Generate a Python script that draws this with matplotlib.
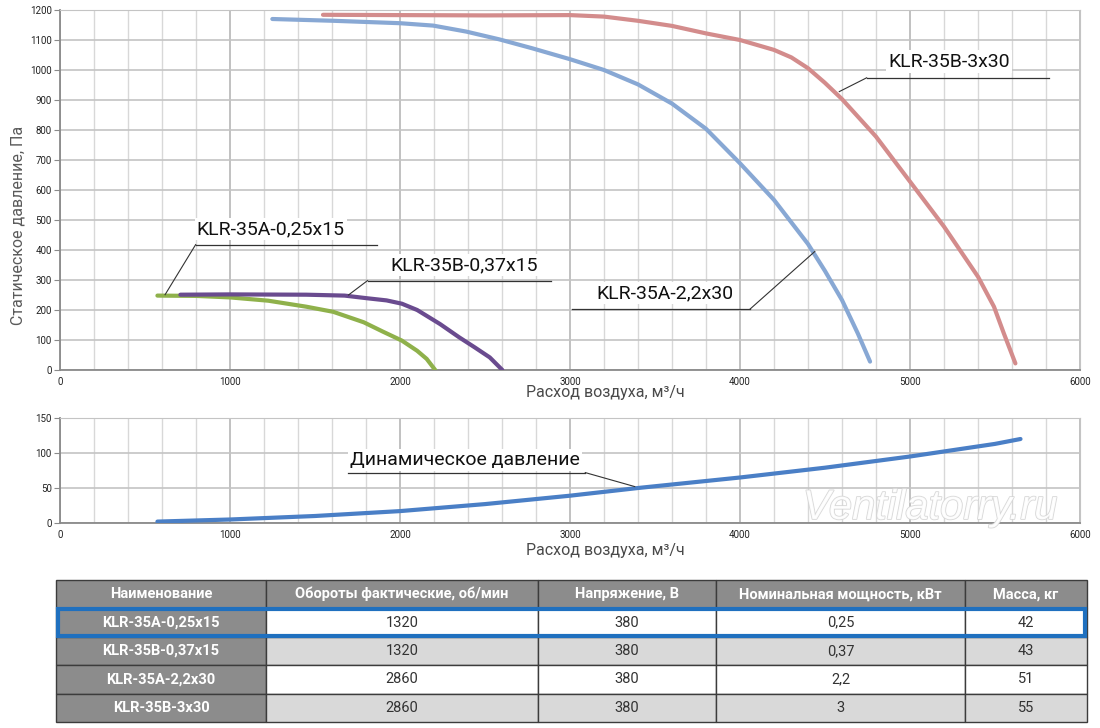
import matplotlib
matplotlib.use("Agg")
import matplotlib.pyplot as plt
import matplotlib.patheffects as pe
from matplotlib.patches import Rectangle
from matplotlib.ticker import MultipleLocator

plt.rcParams['font.family'] = ['Roboto', 'DejaVu Sans']

# static pressure curves, flow m3/h vs Pa
green_x = [573, 800, 1000, 1225, 1449, 1607, 1787, 1899, 2011, 2101, 2157, 2207]
green_y = [248, 247, 242, 231, 211, 194, 159, 128, 98, 64, 37, 0]

purple_x = [708, 1000, 1449, 1674, 1809, 1921, 2011, 2101, 2236, 2348, 2438, 2528, 2602]
purple_y = [251, 252, 251, 248, 239, 232, 221, 200, 153, 109, 76, 42, 0]

blue_x = [1249, 1610, 2000, 2195, 2390, 2585, 2780, 3000, 3200, 3400, 3600, 3800,
          4000, 4200, 4400, 4500, 4600, 4693, 4765]
blue_y = [1170, 1164, 1156, 1148, 1128, 1102, 1072, 1036, 1000, 952, 888, 804,
          689, 567, 420, 330, 233, 122, 28]

red_x = [1547, 2000, 2500, 3000, 3200, 3400, 3600, 3800, 4000, 4200, 4302, 4400,
         4498, 4600, 4800, 5000, 5200, 5400, 5494, 5552, 5620]
red_y = [1184, 1183, 1182, 1183, 1178, 1164, 1147, 1122, 1100, 1067, 1042, 1006,
         958, 903, 778, 628, 478, 311, 211, 122, 22]

# dynamic pressure
dyn_x = [573, 1000, 1500, 2000, 2500, 3000, 3400, 4000, 4500, 5000, 5500, 5650]
dyn_y = [2, 5, 10, 17, 27, 39, 50, 65, 79, 95, 113, 120]

# table
headers = ["Наименование", "Обороты фактические, об/мин", "Напряжение, В",
           "Номинальная мощность, кВт", "Масса, кг"]
models = ["KLR-35A-0,25x15", "KLR-35B-0,37x15", "KLR-35A-2,2x30", "KLR-35B-3x30"]
rpm = ["1320", "1320", "2860", "2860"]
voltage = ["380", "380", "380", "380"]
power = ["0,25", "0,37", "2,2", "3"]
mass = ["42", "43", "51", "55"]

W, H = 1100, 728
fig = plt.figure(figsize=(11, 7.28), dpi=100)


def px_axes(left, top, right, bottom):
    return fig.add_axes([left / W, 1 - bottom / H, (right - left) / W, (bottom - top) / H])


def style_axes(ax, ymax, ystep):
    ax.set_xlim(0, 6000)
    ax.set_ylim(0, ymax)
    ax.xaxis.set_major_locator(MultipleLocator(1000))
    ax.xaxis.set_minor_locator(MultipleLocator(200))
    ax.yaxis.set_major_locator(MultipleLocator(ystep))
    ax.grid(which='major', axis='x', color='#bcbcbc', lw=1.3)
    ax.grid(which='minor', axis='x', color='#d8d8d8', lw=1.0)
    ax.grid(which='major', axis='y', color='#c4c4c4', lw=1.2)
    ax.set_axisbelow(True)
    for s in ['top', 'right']:
        ax.spines[s].set_color('#c4c4c4')
    for s in ['left', 'bottom']:
        ax.spines[s].set_color('#8a8a8a')
        ax.spines[s].set_linewidth(1.3)
    ax.tick_params(axis='y', length=4, color='#8a8a8a', labelsize=7, labelcolor='#222222', pad=2)
    ax.tick_params(axis='x', which='both', length=0, labelsize=7, labelcolor='#222222', pad=5)


def curve(ax, xs, ys, color):
    ax.plot(xs, ys, color=color, lw=3, solid_capstyle='round', solid_joinstyle='round', zorder=3)


def callout(ax, text, tx, ty, x0, x1, ly, px, py, size=14):
    ax.plot([x0, x1], [ly, ly], color='#333333', lw=0.9, zorder=4)
    ax.plot([x0 if px < x0 else x1, px], [ly, py], color='#333333', lw=0.8, zorder=4)
    ax.text(tx, ty, text, fontsize=size, ha='center', va='center', color='#111111', zorder=5,
            bbox=dict(facecolor='white', edgecolor='none', pad=1.5))


# ---- static pressure chart
ax1 = px_axes(60, 10, 1080, 370)
style_axes(ax1, 1200, 100)
curve(ax1, green_x, green_y, '#8fb14b')
curve(ax1, purple_x, purple_y, '#6a4b8f')
curve(ax1, blue_x, blue_y, '#88a8d4')
curve(ax1, red_x, red_y, '#d38c8c')

callout(ax1, "KLR-35A-0,25x15", 1240, 470, 798, 1865, 418, 618, 251)
callout(ax1, "KLR-35B-0,37x15", 2380, 350, 1809, 2888, 298, 1697, 250)
callout(ax1, "KLR-35A-2,2x30", 3560, 256, 3012, 4059, 203, 4440, 395)
callout(ax1, "KLR-35B-3x30", 5230, 1028, 4745, 5820, 974, 4584, 928)

fig.text(18 / W, 1 - 225 / H, "Статическое давление, Па", rotation=90, ha='center', va='center',
         fontsize=11.5, color='#5a5a5a')
fig.text(605 / W, 1 - 393 / H, "Расход воздуха, м³/ч", ha='center', va='center',
         fontsize=11.5, color='#4a4a4a')

# ---- dynamic pressure chart
ax2 = px_axes(60, 418, 1080, 523)
style_axes(ax2, 150, 50)
curve(ax2, dyn_x, dyn_y, '#4a7fc6')
callout(ax2, "Динамическое давление", 2380, 90, 1697, 3090, 72, 3381, 52)

fig.text(605 / W, 1 - 551 / H, "Расход воздуха, м³/ч", ha='center', va='center',
         fontsize=11.5, color='#4a4a4a')

fig.text(930 / W, 1 - 508 / H, "Ventilatorry.ru", ha='center', va='center', fontsize=30,
         style='italic', family=['Liberation Sans', 'DejaVu Sans'], color='white', alpha=0.9,
         path_effects=[pe.withStroke(linewidth=1.2, foreground='#d4d4d4')], zorder=10)

# ---- table
ax3 = px_axes(56, 580, 1087, 722)
ax3.axis('off')
rows = [list(r) for r in zip(models, rpm, voltage, power, mass)]
col_px = [210, 272, 178, 249, 122]
tbl = ax3.table(cellText=rows, colLabels=headers, bbox=[0, 0, 1, 1],
                colWidths=[c / sum(col_px) for c in col_px], cellLoc='center')
tbl.auto_set_font_size(False)
tbl.set_fontsize(10.5)
for (r, c), cell in tbl.get_celld().items():
    cell.set_edgecolor('#3c3c3c')
    cell.set_linewidth(1.0)
    if r == 0 or c == 0:
        cell.set_facecolor('#8c8c8c')
        cell.get_text().set_color('white')
        cell.get_text().set_fontweight('bold')
    else:
        cell.set_facecolor('white' if r % 2 == 1 else '#d9d9d9')
        cell.get_text().set_color('#333333')

ax3.add_patch(Rectangle((0.0015, 0.605), 0.997, 0.19, transform=ax3.transAxes, fill=False,
                        edgecolor='#1f70bf', lw=3, clip_on=False, zorder=10))

fig.savefig("out.png", dpi=100)
